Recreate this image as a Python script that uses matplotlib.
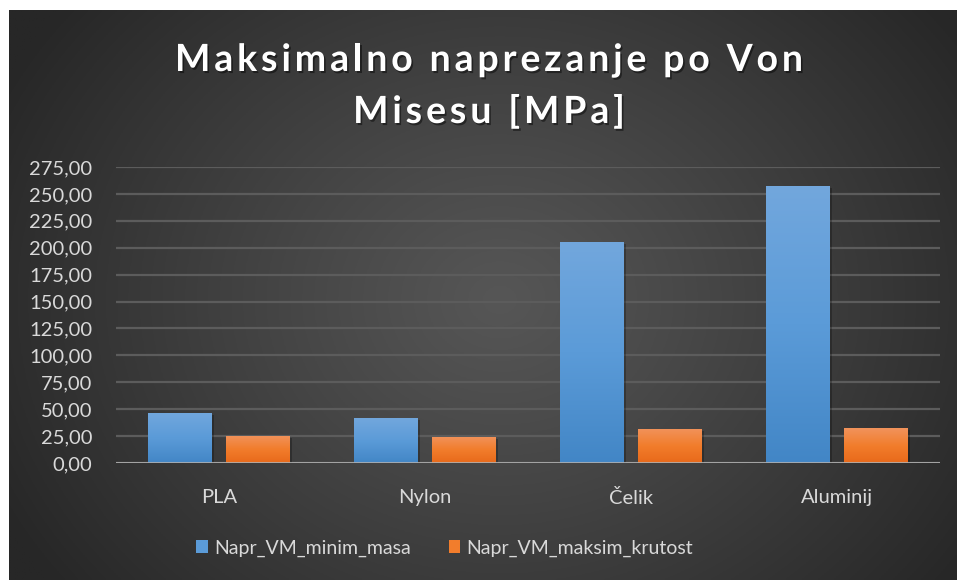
import numpy as np
import matplotlib
matplotlib.use("Agg")
import matplotlib.pyplot as plt
import matplotlib.patheffects as pe
from matplotlib.colors import LinearSegmentedColormap
from matplotlib.patches import Patch

# podaci
materijali = ["PLA", "Nylon", "Čelik", "Aluminij"]
napr_minim_masa = [46.5, 41.8, 205.3, 257.3]
napr_maksim_krutost = [25.1, 24.2, 31.6, 32.5]
serije = ["Napr_VM_minim_masa", "Napr_VM_maksim_krutost"]
yticks = np.arange(0, 276, 25)

W, H = 957, 580
plt.rcParams["font.family"] = ["Lato", "DejaVu Sans"]

fig = plt.figure(figsize=(W / 100, H / 100), dpi=100)
fig.patch.set_facecolor("white")


def px(x0, y0, x1, y1):
    # pravokutnik u pikselima (odozgo) -> koordinate figure
    return [x0 / W, 1 - y1 / H, (x1 - x0) / W, (y1 - y0) / H]


# tamna radijalna pozadina
bg = fig.add_axes(px(9, 10, W, H), zorder=-10)
bg.axis("off")
gx, gy = np.meshgrid(np.linspace(9, W, 400), np.linspace(10, H, 250))
r = np.sqrt(((gx - 500) / 560) ** 2 + ((gy - 300) / 470) ** 2)
t = np.clip(r, 0, 1) ** 1.1
c_in, c_out = 0x56, 0x27
g = (c_in * (1 - t) + c_out * t) / 255
bg.imshow(np.dstack([g, g, g]), aspect="auto", extent=(0, 1, 0, 1))
bg.set_xlim(0, 1)
bg.set_ylim(0, 1)

ax = fig.add_axes(px(116, 167, 940, 463))
ax.set_facecolor("none")
x = np.arange(len(materijali))
sirina = 0.31
pomak = 0.189

plavi = LinearSegmentedColormap.from_list("plavi", ["#4286c6", "#5b9bd8", "#72a7dd"])
narancasti = LinearSegmentedColormap.from_list("nar", ["#e8691a", "#f27d2c", "#f1935c"])

for vrijednosti, dx, cmap in [(napr_minim_masa, -pomak, plavi),
                              (napr_maksim_krutost, pomak, narancasti)]:
    # sjena
    ax.bar(x + dx + 0.012, vrijednosti, sirina, bottom=-1.5, color="black",
           alpha=0.25, zorder=1, linewidth=0)
    stupci = ax.bar(x + dx, vrijednosti, sirina, color=cmap(0.5), zorder=2,
                    linewidth=0)
    grad = np.linspace(0, 1, 256).reshape(-1, 1)
    for s in stupci:
        x0, y0 = s.get_x(), s.get_y()
        im = ax.imshow(grad, cmap=cmap, origin="lower", aspect="auto",
                       extent=(x0, x0 + s.get_width(), y0, y0 + s.get_height()),
                       zorder=3)
        im.set_clip_path(s)

ax.set_xlim(-0.5, 3.5)
ax.set_ylim(0, 275)
ax.set_yticks(yticks)
ax.set_yticklabels([f"{v:.2f}".replace(".", ",") for v in yticks])
ax.set_xticks(x)
ax.set_xticklabels(materijali)
ax.tick_params(axis="y", length=0, pad=17, labelsize=14.5, labelcolor="#d9d9d9")
ax.tick_params(axis="x", length=0, pad=19, labelsize=14.5, labelcolor="#d9d9d9")
ax.grid(axis="y", color="#5c5c5c", linewidth=1.6, zorder=0)
ax.set_axisbelow(True)
for sp in ax.spines.values():
    sp.set_visible(False)
ax.axhline(0, color="#b0b0b0", linewidth=2.2, alpha=0.85, zorder=5)

# naslov s razmaknutim slovima
renderer = fig.canvas.get_renderer()
naslov_kw = dict(fontsize=27, fontweight="bold", color="white")


def sirina_teksta(s):
    tt = fig.text(0, 0, s + "|", **naslov_kw)
    w = tt.get_window_extent(renderer).width
    tt.remove()
    return w


w_bar = sirina_teksta("")


def razmaknuti_tekst(s, cx, baseline, razmak):
    ukupno = sirina_teksta(s) - w_bar + razmak * (len(s) - 1)
    x0 = cx - ukupno / 2
    for i, ch in enumerate(s):
        if ch == " ":
            continue
        xp = x0 + sirina_teksta(s[:i]) - w_bar + i * razmak
        fig.text(xp / W, 1 - baseline / H, ch, ha="left", va="baseline",
                 path_effects=[pe.withSimplePatchShadow(offset=(1.2, -1.5),
                                                        shadow_rgbFace="black",
                                                        alpha=0.45)],
                 **naslov_kw)


red1 = "Maksimalno naprezanje po Von"
red2 = "Misesu [MPa]"
razmak = (628 - (sirina_teksta(red1) - w_bar)) / (len(red1) - 1)
razmaknuti_tekst(red1, 489, 71, razmak)
razmaknuti_tekst(red2, 489, 123, razmak)

# legenda
rucke = [Patch(facecolor="#5b9bd8"), Patch(facecolor="#f27d2c")]
fig.legend(rucke, serije, loc="center", bbox_to_anchor=(444.5 / W, 1 - 548 / H),
           ncol=2, frameon=False, fontsize=14, labelcolor="#d9d9d9",
           handlelength=0.6, handleheight=0.6, handletextpad=0.3,
           columnspacing=1.95)

fig.savefig("out.png", dpi=100, facecolor=fig.get_facecolor())
